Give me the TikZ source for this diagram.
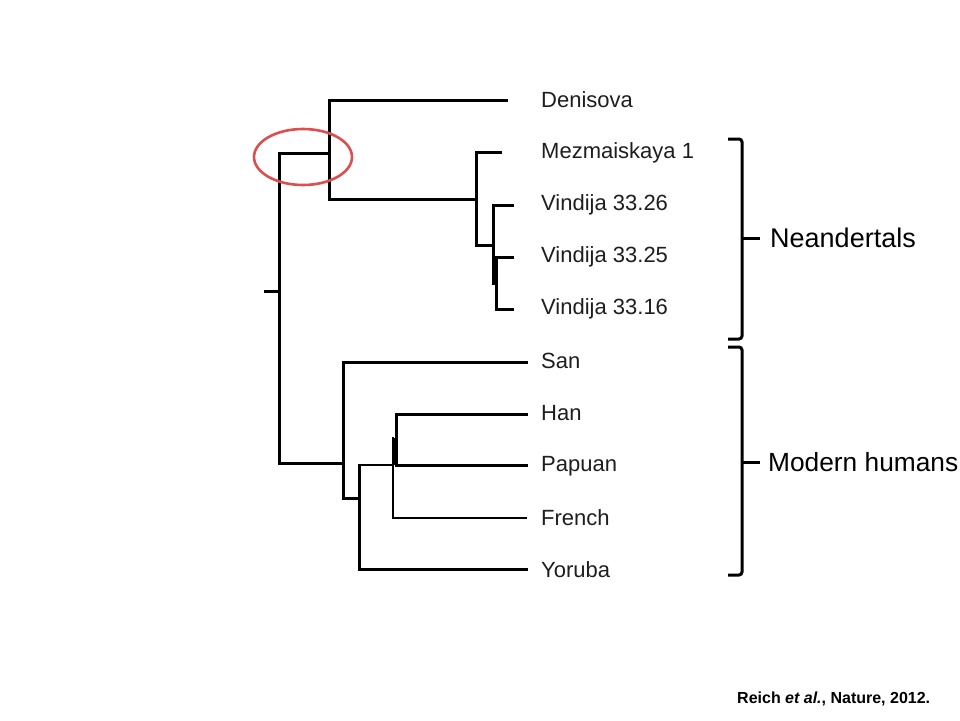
\documentclass[tikz,border=0pt]{standalone}
\usepackage{fontspec}
\setmainfont{Liberation Sans}
\definecolor{ovalred}{RGB}{222,78,78}
\definecolor{labelgray}{RGB}{30,30,30}
\begin{document}
\begin{tikzpicture}[x=1pt,y=-1pt,
  br/.style={line width=3pt,line cap=rect},
  thinbr/.style={line width=2pt,line cap=rect},
  taxon/.style={anchor=west,inner sep=0pt,font=\fontsize{22}{25}\selectfont,text=labelgray},
  group/.style={anchor=west,inner sep=0pt,font=\fontsize{27}{31}\selectfont,text=black},
  bracestyle/.style={line width=3pt,rounded corners=3pt}]
\useasboundingbox[fill=white] (0,0) rectangle (960,720);

% taxon labels
\node[taxon] (den) at (541,100) {Denisova};
\node[taxon] (mez) at (541,153) {Mezmaiskaya 1};
\node[taxon] (v26) at (541,205) {Vindija 33.26};
\node[taxon] (v25) at (541,257) {Vindija 33.25};
\node[taxon] (v16) at (541,309) {Vindija 33.16};
\node[taxon] (san) at (541,361) {San};
\node[taxon] (han) at (541,413) {Han};
\node[taxon] (pap) at (541,466) {Papuan};
\node[taxon] (fre) at (541,518) {French};
\node[taxon] (yor) at (541,570) {Yoruba};

% tip coordinates
\coordinate (tden) at (506,100);
\coordinate (tmez) at (500,152);
\coordinate (tv26) at (512,205);
\coordinate (tv25) at (512,257);
\coordinate (tv16) at (512,309);
\coordinate (tsan) at (526,362);
\coordinate (than) at (526,414);
\coordinate (tpap) at (526,465);
\coordinate (tfre) at (526,518);
\coordinate (tyor) at (526,569);

% internal nodes
\coordinate (root) at (279,291);
\coordinate (rootstub) at (265,291);
\coordinate (arch) at (329,153);
\coordinate (nea) at (476,199);
\coordinate (vin) at (493,245);
\coordinate (vinb) at (496.5,257);
\coordinate (mod) at (343,463);
\coordinate (nonsan) at (359,498);
\coordinate (nonafr) at (395,465);

% root
\draw[br] (rootstub) -- (root);
\draw[br] (279,153) -- (279,463);
% archaic clade
\draw[br] (279,153) -- (arch);
\draw[br] (329,100) -- (329,199);
\draw[br] (329,100) -- (tden);
\draw[br] (329,199) -- (nea);
% Neandertals
\draw[br] (476,152) -- (476,245);
\draw[br] (476,152) -- (tmez);
\draw[br] (476,245) -- (vin);
\draw[br] (493,205) -- (493,283);
\draw[br] (493,205) -- (tv26);
\draw[br] (496.5,257) -- (496.5,309);
\draw[br] (vinb) -- (tv25);
\draw[br] (496.5,309) -- (tv16);
% modern humans
\draw[br] (279,463) -- (mod);
\draw[br] (343,362) -- (343,498);
\draw[br] (343,362) -- (tsan);
\draw[br] (343,498) -- (nonsan);
\draw[br] (359,465) -- (359,569);
\draw[br] (359,569) -- (tyor);
\draw[thinbr] (359,465) -- (393,465);
\draw[br] (396,414) -- (396,465);
\draw[line width=5pt] (394.5,438) -- (394.5,465);
\draw[br] (396,414) -- (than);
\draw[br] (396,465) -- (tpap);
\draw[thinbr] (393,438) -- (393,518);
\draw[thinbr] (393,518) -- (tfre);

% red oval
\draw[ovalred,line width=2.6pt] (303,157) ellipse [x radius=49, y radius=28];

% braces
\node[group] (neand) at (770,238) {Neandertals};
\node[group,font=\fontsize{26.3}{30}\selectfont] (modh) at (768,462) {Modern humans};
\coordinate (b1top) at (728,139);
\coordinate (b1bot) at (728,339);
\draw[bracestyle] (b1top) -- (742,139) -- (742,339) -- (b1bot);
\draw[line width=3pt] (742,238) -- (760,238);
\coordinate (b2top) at (728,347);
\coordinate (b2bot) at (728,575);
\draw[bracestyle] (b2top) -- (742,347) -- (742,575) -- (b2bot);
\draw[line width=3pt] (742,462) -- (760,462);

% citation
\node[anchor=west,inner sep=0pt,font=\bfseries\fontsize{16}{19}\selectfont] (cite) at (737,699) {Reich \textit{et al.}, Nature, 2012.};
\end{tikzpicture}
\end{document}
